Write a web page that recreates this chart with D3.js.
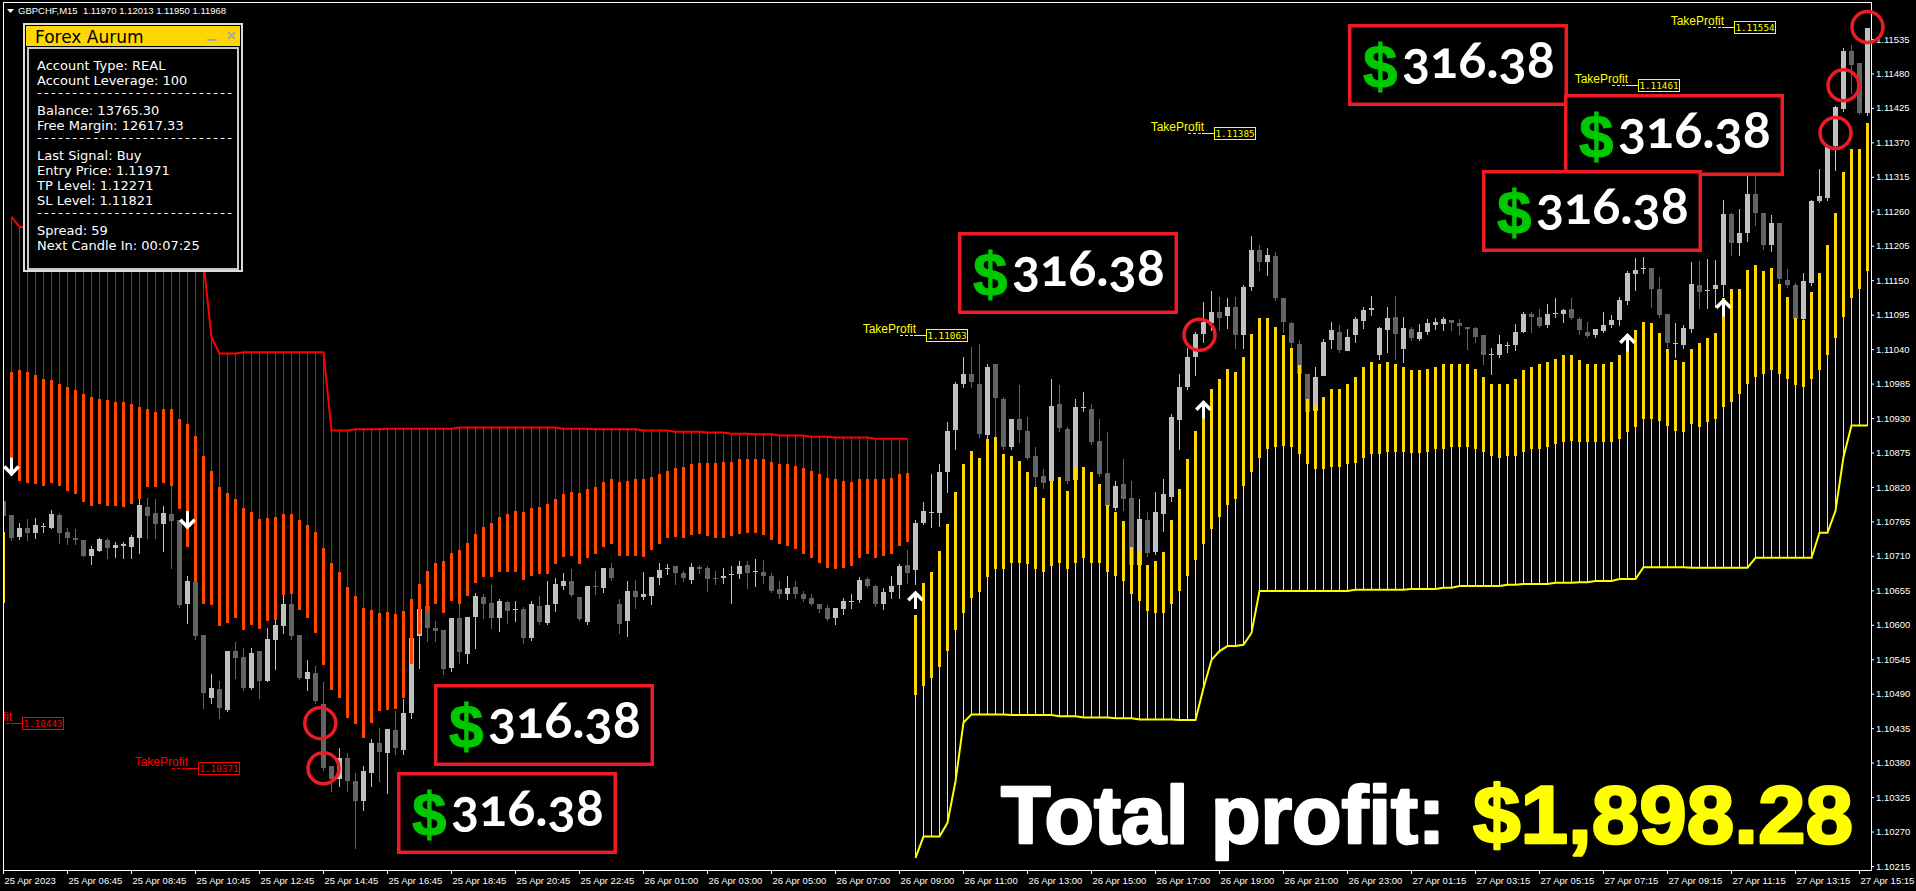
<!DOCTYPE html>
<html><head><meta charset="utf-8">
<script src="https://cdn.jsdelivr.net/npm/d3@7"></script>
<style>
html,body{margin:0;padding:0;background:#000;overflow:hidden}
svg{display:block}
</style></head><body>
<svg id="chart" width="1916" height="891"></svg>
<script>
// ---------------- DATA ----------------
const symbolHeader = "GBPCHF,M15  1.11970 1.12013 1.11950 1.11968";
const timeLabels = ["25 Apr 2023","25 Apr 06:45","25 Apr 08:45","25 Apr 10:45","25 Apr 12:45","25 Apr 14:45","25 Apr 16:45","25 Apr 18:45","25 Apr 20:45","25 Apr 22:45","26 Apr 01:00","26 Apr 03:00","26 Apr 05:00","26 Apr 07:00","26 Apr 09:00","26 Apr 11:00","26 Apr 13:00","26 Apr 15:00","26 Apr 17:00","26 Apr 19:00","26 Apr 21:00","26 Apr 23:00","27 Apr 01:15","27 Apr 03:15","27 Apr 05:15","27 Apr 07:15","27 Apr 09:15","27 Apr 11:15","27 Apr 13:15","27 Apr 15:15"];
const priceTicks = [1.10215,1.10270,1.10325,1.10380,1.10435,1.10490,1.10545,1.10600,1.10655,1.10710,1.10765,1.10820,1.10875,1.10930,1.10985,1.11040,1.11095,1.11150,1.11205,1.11260,1.11315,1.11370,1.11425,1.11480,1.11535];

const open = [
1.10798,1.10776,1.10740,1.10755,1.10748,1.10756,1.10755,1.10776,1.10748,1.10739,
1.10736,1.10710,1.10718,1.10736,1.10723,1.10726,1.10724,1.10739,1.10788,1.10779,
1.10761,1.10777,1.10768,1.10633,1.10668,1.10584,1.10483,1.10497,1.10464,1.10558,
1.10548,1.10499,1.10558,1.10510,1.10576,1.10598,1.10633,1.10584,1.10513,1.10523,
1.10473,1.10374,1.10353,1.10387,1.10350,1.10318,1.10364,1.10412,1.10395,1.10432,
1.10401,1.10459,1.10582,1.10630,1.10595,1.10592,1.10531,1.10611,1.10553,1.10612,
1.10644,1.10635,1.10611,1.10636,1.10624,1.10625,1.10579,1.10630,1.10603,1.10633,
1.10662,1.10670,1.10644,1.10604,1.10662,1.10659,1.10691,1.10633,1.10606,1.10654,
1.10644,1.10646,1.10675,1.10689,1.10694,1.10683,1.10672,1.10692,1.10691,1.10675,
1.10675,1.10680,1.10681,1.10696,1.10686,1.10684,1.10678,1.10657,1.10649,1.10660,
1.10649,1.10643,1.10633,1.10627,1.10611,1.10625,1.10636,1.10640,1.10673,1.10662,
1.10633,1.10652,1.10664,1.10696,1.10688,1.10763,1.10779,1.10779,1.10844,1.10910,
1.10984,1.11000,1.10984,1.10904,1.11016,1.10961,1.10884,1.10928,1.10910,1.10870,
1.10838,1.10830,1.10952,1.10913,1.10830,1.10947,1.10944,1.10894,1.10843,1.10787,
1.10824,1.10803,1.10696,1.10768,1.10716,1.10776,1.10804,1.10928,1.10979,1.11027,
1.11064,1.11081,1.11099,1.11092,1.11107,1.11062,1.11139,1.11198,1.11179,1.11188,
1.11121,1.11081,1.11048,1.11000,1.10940,1.10998,1.11054,1.11067,1.11038,1.11062,
1.11084,1.11102,1.11030,1.11070,1.11091,1.11040,1.11072,1.11057,1.11067,1.11078,
1.11080,1.11086,1.11081,1.11075,1.11073,1.11062,1.11032,1.11030,1.11044,1.11048,
1.11068,1.11096,1.11092,1.11078,1.11096,1.11096,1.11104,1.11088,1.11068,1.11062,
1.11068,1.11078,1.11086,1.11116,1.11160,1.11168,1.11169,1.11136,1.11096,1.11048,
1.11046,1.11072,1.11142,1.11132,1.11136,1.11142,1.11256,1.11209,1.11225,1.11288,
1.11257,1.11206,1.11241,1.11150,1.11142,1.11088,1.11145,1.11276,1.11281,1.11364,
1.11424,1.11516,1.11497,1.11417];

const high = [
1.10803,1.10776,1.10763,1.10769,1.10771,1.10763,1.10784,1.10779,1.10755,1.10753,
1.10736,1.10726,1.10739,1.10739,1.10732,1.10732,1.10744,1.10800,1.10803,1.10800,
1.10790,1.10827,1.10768,1.10678,1.10697,1.10584,1.10521,1.10510,1.10558,1.10572,
1.10563,1.10563,1.10558,1.10595,1.10614,1.10649,1.10649,1.10584,1.10544,1.10534,
1.10508,1.10374,1.10403,1.10395,1.10363,1.10374,1.10417,1.10436,1.10433,1.10462,
1.10481,1.10579,1.10625,1.10649,1.10606,1.10592,1.10611,1.10633,1.10612,1.10651,
1.10649,1.10664,1.10641,1.10638,1.10638,1.10628,1.10638,1.10646,1.10670,1.10675,
1.10683,1.10689,1.10644,1.10662,1.10686,1.10691,1.10699,1.10641,1.10670,1.10672,
1.10684,1.10676,1.10699,1.10697,1.10694,1.10686,1.10699,1.10696,1.10694,1.10686,
1.10691,1.10694,1.10702,1.10702,1.10705,1.10704,1.10683,1.10670,1.10678,1.10670,
1.10654,1.10649,1.10633,1.10632,1.10627,1.10643,1.10649,1.10676,1.10676,1.10664,
1.10659,1.10678,1.10697,1.10720,1.10768,1.10796,1.10841,1.10857,1.10924,1.10988,
1.11027,1.11044,1.11048,1.11016,1.11016,1.10964,1.10929,1.10982,1.10932,1.10884,
1.10848,1.10993,1.10982,1.10916,1.10961,1.10972,1.10953,1.10928,1.10907,1.10830,
1.10865,1.10830,1.10800,1.10780,1.10812,1.10833,1.10937,1.11000,1.11041,1.11067,
1.11115,1.11132,1.11123,1.11121,1.11123,1.11142,1.11220,1.11206,1.11201,1.11195,
1.11121,1.11083,1.11054,1.11000,1.11012,1.11056,1.11084,1.11078,1.11072,1.11092,
1.11108,1.11124,1.11075,1.11108,1.11124,1.11092,1.11076,1.11080,1.11088,1.11089,
1.11092,1.11086,1.11088,1.11075,1.11075,1.11062,1.11041,1.11062,1.11052,1.11080,
1.11099,1.11099,1.11104,1.11112,1.11121,1.11104,1.11121,1.11092,1.11083,1.11072,
1.11100,1.11094,1.11123,1.11164,1.11185,1.11187,1.11169,1.11155,1.11096,1.11081,
1.11078,1.11179,1.11180,1.11184,1.11182,1.11278,1.11257,1.11264,1.11320,1.11320,
1.11257,1.11254,1.11241,1.11168,1.11145,1.11161,1.11278,1.11328,1.11368,1.11428,
1.11520,1.11526,1.11497,1.11553];

const low = [
1.10771,1.10736,1.10737,1.10736,1.10739,1.10748,1.10755,1.10731,1.10729,1.10729,
1.10710,1.10697,1.10718,1.10707,1.10708,1.10707,1.10707,1.10715,1.10739,1.10739,
1.10718,1.10691,1.10628,1.10603,1.10577,1.10467,1.10475,1.10451,1.10462,1.10515,
1.10496,1.10497,1.10483,1.10510,1.10529,1.10587,1.10577,1.10513,1.10496,1.10475,
1.10369,1.10334,1.10342,1.10334,1.10244,1.10305,1.10342,1.10350,1.10331,1.10393,
1.10393,1.10451,1.10531,1.10574,1.10574,1.10521,1.10526,1.10539,1.10539,1.10563,
1.10611,1.10595,1.10590,1.10603,1.10606,1.10571,1.10576,1.10601,1.10601,1.10622,
1.10657,1.10646,1.10608,1.10601,1.10649,1.10652,1.10672,1.10587,1.10582,1.10627,
1.10641,1.10633,1.10665,1.10681,1.10665,1.10670,1.10667,1.10683,1.10654,1.10665,
1.10667,1.10635,1.10675,1.10659,1.10662,1.10667,1.10652,1.10643,1.10641,1.10643,
1.10638,1.10632,1.10620,1.10608,1.10601,1.10617,1.10627,1.10636,1.10660,1.10630,
1.10625,1.10643,1.10643,1.10667,1.10665,1.10761,1.10756,1.10758,1.10812,1.10881,
1.10979,1.10979,1.10899,1.10896,1.10899,1.10881,1.10881,1.10892,1.10864,1.10822,
1.10819,1.10827,1.10910,1.10827,1.10827,1.10942,1.10888,1.10838,1.10784,1.10784,
1.10784,1.10692,1.10692,1.10710,1.10713,1.10750,1.10798,1.10881,1.10976,1.10998,
1.11052,1.11070,1.11070,1.11073,1.11041,1.11041,1.11134,1.11166,1.11158,1.11118,
1.11067,1.11035,1.10998,1.10939,1.10940,1.10998,1.11041,1.11036,1.11038,1.11051,
1.11073,1.11094,1.11024,1.11035,1.11025,1.11019,1.11054,1.11054,1.11064,1.11072,
1.11070,1.11070,1.11064,1.11040,1.11051,1.11017,1.11000,1.11028,1.11035,1.11038,
1.11067,1.11067,1.11076,1.11076,1.11092,1.11084,1.11088,1.11064,1.11060,1.11059,
1.11067,1.11075,1.11078,1.11112,1.11134,1.11161,1.11108,1.11092,1.11043,1.11028,
1.11041,1.11067,1.11105,1.11105,1.11108,1.11124,1.11190,1.11190,1.11212,1.11238,
1.11200,1.11196,1.11145,1.11139,1.11084,1.11084,1.11142,1.11275,1.11278,1.11326,
1.11420,1.11449,1.11416,1.11414];

const close = [
1.10774,1.10740,1.10755,1.10747,1.10760,1.10758,1.10777,1.10747,1.10739,1.10736,
1.10710,1.10721,1.10737,1.10723,1.10728,1.10729,1.10740,1.10792,1.10774,1.10761,
1.10779,1.10766,1.10632,1.10670,1.10582,1.10491,1.10499,1.10467,1.10558,1.10547,
1.10499,1.10555,1.10510,1.10577,1.10600,1.10633,1.10582,1.10515,1.10524,1.10478,
1.10371,1.10353,1.10387,1.10350,1.10318,1.10366,1.10412,1.10398,1.10433,1.10403,
1.10460,1.10579,1.10625,1.10595,1.10590,1.10529,1.10611,1.10556,1.10612,1.10646,
1.10633,1.10611,1.10638,1.10622,1.10625,1.10579,1.10633,1.10604,1.10632,1.10665,
1.10670,1.10648,1.10609,1.10662,1.10660,1.10691,1.10675,1.10601,1.10654,1.10644,
1.10649,1.10676,1.10688,1.10691,1.10683,1.10675,1.10692,1.10689,1.10673,1.10673,
1.10678,1.10681,1.10694,1.10684,1.10686,1.10678,1.10654,1.10649,1.10659,1.10649,
1.10641,1.10633,1.10625,1.10609,1.10627,1.10638,1.10638,1.10672,1.10662,1.10633,
1.10652,1.10662,1.10694,1.10684,1.10763,1.10782,1.10780,1.10844,1.10910,1.10984,
1.11000,1.10987,1.10904,1.11012,1.10961,1.10884,1.10928,1.10910,1.10867,1.10836,
1.10827,1.10950,1.10913,1.10830,1.10947,1.10948,1.10892,1.10841,1.10790,1.10822,
1.10800,1.10696,1.10769,1.10715,1.10780,1.10808,1.10932,1.10980,1.11027,1.11064,
1.11083,1.11099,1.11089,1.11107,1.11062,1.11139,1.11198,1.11179,1.11190,1.11121,
1.11083,1.11049,1.11000,1.10940,1.10995,1.11052,1.11070,1.11038,1.11060,1.11088,
1.11102,1.11105,1.11073,1.11089,1.11064,1.11073,1.11057,1.11068,1.11081,1.11083,
1.11088,1.11081,1.11076,1.11072,1.11059,1.11030,1.11033,1.11048,1.11046,1.11068,
1.11096,1.11091,1.11078,1.11096,1.11097,1.11102,1.11089,1.11070,1.11062,1.11072,
1.11078,1.11086,1.11118,1.11161,1.11166,1.11169,1.11136,1.11094,1.11049,1.11049,
1.11073,1.11144,1.11131,1.11134,1.11142,1.11256,1.11209,1.11225,1.11288,1.11257,
1.11206,1.11241,1.11152,1.11142,1.11088,1.11148,1.11276,1.11284,1.11364,1.11427,
1.11516,1.11494,1.11417,1.11553];

// trend indicator: trailing stop level, band edge nearest the stop, band edge farthest from it
const trendStop = [
1.10385,1.11251,1.11235,1.11235,1.11235,1.11235,1.11235,1.11235,1.11235,1.11235,
1.11235,1.11235,1.11235,1.11235,1.11235,1.11235,1.11235,1.11235,1.11235,1.11235,
1.11235,1.11235,1.11235,1.11235,1.11233,1.11179,1.11059,1.11033,1.11033,1.11033,
1.11035,1.11035,1.11035,1.11035,1.11035,1.11035,1.11035,1.11035,1.11035,1.11035,
1.11035,1.10910,1.10910,1.10910,1.10912,1.10912,1.10912,1.10912,1.10913,1.10913,
1.10913,1.10913,1.10913,1.10913,1.10913,1.10913,1.10913,1.10915,1.10915,1.10915,
1.10915,1.10915,1.10915,1.10915,1.10915,1.10915,1.10915,1.10915,1.10915,1.10915,
1.10913,1.10913,1.10913,1.10913,1.10912,1.10912,1.10912,1.10912,1.10912,1.10912,
1.10910,1.10910,1.10910,1.10910,1.10908,1.10908,1.10908,1.10908,1.10907,1.10907,
1.10907,1.10905,1.10905,1.10905,1.10904,1.10904,1.10904,1.10902,1.10902,1.10902,
1.10902,1.10900,1.10900,1.10900,1.10899,1.10899,1.10899,1.10899,1.10899,1.10897,
1.10897,1.10897,1.10897,1.10897,1.10228,1.10262,1.10262,1.10262,1.10284,1.10350,
1.10444,1.10457,1.10457,1.10457,1.10457,1.10457,1.10456,1.10456,1.10456,1.10456,
1.10456,1.10456,1.10454,1.10454,1.10454,1.10452,1.10452,1.10452,1.10452,1.10451,
1.10451,1.10451,1.10449,1.10449,1.10449,1.10449,1.10449,1.10448,1.10448,1.10448,
1.10499,1.10544,1.10558,1.10566,1.10566,1.10568,1.10587,1.10654,1.10654,1.10654,
1.10654,1.10654,1.10654,1.10654,1.10654,1.10654,1.10654,1.10654,1.10654,1.10656,
1.10656,1.10656,1.10656,1.10656,1.10656,1.10656,1.10657,1.10657,1.10657,1.10657,
1.10659,1.10659,1.10662,1.10662,1.10662,1.10662,1.10662,1.10662,1.10664,1.10664,
1.10665,1.10665,1.10665,1.10665,1.10667,1.10667,1.10667,1.10668,1.10668,1.10670,
1.10670,1.10670,1.10673,1.10673,1.10673,1.10692,1.10692,1.10692,1.10692,1.10692,
1.10692,1.10691,1.10691,1.10691,1.10691,1.10691,1.10691,1.10691,1.10691,1.10707,
1.10707,1.10707,1.10707,1.10707,1.10707,1.10707,1.10707,1.10747,1.10747,1.10782,
1.10868,1.10918,1.10918,1.10918];

const bandNear = [
1.10635,1.11003,1.11006,1.11003,1.10998,1.10993,1.10990,1.10985,1.10980,1.10974,
1.10969,1.10964,1.10961,1.10958,1.10956,1.10955,1.10952,1.10948,1.10944,1.10940,
1.10944,1.10945,1.10929,1.10920,1.10902,1.10870,1.10846,1.10820,1.10811,1.10801,
1.10787,1.10780,1.10769,1.10771,1.10772,1.10777,1.10777,1.10768,1.10760,1.10748,
1.10723,1.10699,1.10684,1.10660,1.10646,1.10627,1.10624,1.10619,1.10620,1.10617,
1.10622,1.10641,1.10665,1.10686,1.10699,1.10702,1.10715,1.10720,1.10731,1.10745,
1.10756,1.10763,1.10772,1.10777,1.10782,1.10780,1.10787,1.10788,1.10793,1.10801,
1.10809,1.10812,1.10811,1.10817,1.10820,1.10828,1.10833,1.10828,1.10830,1.10832,
1.10832,1.10836,1.10841,1.10846,1.10851,1.10852,1.10856,1.10859,1.10859,1.10859,
1.10860,1.10860,1.10864,1.10864,1.10864,1.10864,1.10860,1.10857,1.10857,1.10854,
1.10851,1.10846,1.10841,1.10835,1.10832,1.10830,1.10828,1.10832,1.10832,1.10832,
1.10833,1.10835,1.10840,1.10843,1.10488,1.10502,1.10515,1.10532,1.10558,1.10592,
1.10619,1.10643,1.10652,1.10676,1.10689,1.10689,1.10699,1.10699,1.10697,1.10689,
1.10684,1.10694,1.10699,1.10689,1.10699,1.10707,1.10699,1.10699,1.10684,1.10678,
1.10670,1.10649,1.10638,1.10622,1.10619,1.10619,1.10633,1.10654,1.10678,1.10704,
1.10729,1.10753,1.10772,1.10792,1.10801,1.10822,1.10844,1.10867,1.10880,1.10884,
1.10886,1.10883,1.10872,1.10856,1.10849,1.10849,1.10852,1.10852,1.10856,1.10859,
1.10867,1.10873,1.10873,1.10876,1.10876,1.10876,1.10875,1.10875,1.10876,1.10880,
1.10881,1.10883,1.10883,1.10883,1.10880,1.10876,1.10870,1.10867,1.10870,1.10870,
1.10876,1.10880,1.10881,1.10883,1.10888,1.10891,1.10894,1.10892,1.10891,1.10891,
1.10891,1.10891,1.10897,1.10907,1.10916,1.10928,1.10929,1.10926,1.10918,1.10910,
1.10907,1.10921,1.10916,1.10923,1.10928,1.10947,1.10956,1.10968,1.10985,1.10996,
1.11000,1.11006,1.11000,1.10993,1.10982,1.10979,1.10993,1.11006,1.11030,1.11057,
1.11092,1.11121,1.11136,1.11164];

const bandFar = [
1.10748,1.10838,1.10830,1.10827,1.10825,1.10822,1.10827,1.10822,1.10814,1.10808,
1.10796,1.10790,1.10793,1.10790,1.10790,1.10788,1.10793,1.10800,1.10820,1.10820,
1.10827,1.10822,1.10785,1.10724,1.10668,1.10633,1.10632,1.10598,1.10603,1.10611,
1.10592,1.10600,1.10593,1.10606,1.10608,1.10648,1.10649,1.10624,1.10611,1.10587,
1.10536,1.10496,1.10483,1.10451,1.10441,1.10419,1.10443,1.10462,1.10464,1.10465,
1.10483,1.10537,1.10585,1.10622,1.10633,1.10619,1.10638,1.10633,1.10646,1.10667,
1.10676,1.10676,1.10684,1.10684,1.10684,1.10672,1.10678,1.10681,1.10681,1.10697,
1.10708,1.10710,1.10697,1.10707,1.10713,1.10724,1.10729,1.10710,1.10710,1.10710,
1.10708,1.10720,1.10729,1.10739,1.10740,1.10739,1.10744,1.10745,1.10742,1.10739,
1.10739,1.10742,1.10745,1.10747,1.10747,1.10744,1.10736,1.10729,1.10726,1.10721,
1.10713,1.10707,1.10699,1.10691,1.10689,1.10691,1.10694,1.10707,1.10713,1.10707,
1.10710,1.10713,1.10726,1.10732,1.10616,1.10667,1.10684,1.10718,1.10761,1.10812,
1.10856,1.10878,1.10867,1.10896,1.10899,1.10873,1.10870,1.10862,1.10844,1.10820,
1.10803,1.10830,1.10836,1.10814,1.10852,1.10852,1.10844,1.10824,1.10792,1.10780,
1.10766,1.10724,1.10718,1.10696,1.10702,1.10716,1.10768,1.10817,1.10865,1.10910,
1.10932,1.10977,1.10993,1.11008,1.11004,1.11027,1.11064,1.11089,1.11089,1.11076,
1.11062,1.11041,1.11014,1.10960,1.10950,1.10963,1.10977,1.10977,1.10985,1.10996,
1.11011,1.11020,1.11017,1.11020,1.11016,1.11012,1.11006,1.11006,1.11009,1.11012,
1.11016,1.11017,1.11016,1.11016,1.11009,1.10996,1.10985,1.10985,1.10985,1.10992,
1.11006,1.11012,1.11016,1.11020,1.11025,1.11030,1.11030,1.11022,1.11016,1.11016,
1.11016,1.11019,1.11030,1.11041,1.11070,1.11083,1.11081,1.11065,1.11040,1.11022,
1.11019,1.11040,1.11049,1.11057,1.11065,1.11121,1.11136,1.11136,1.11166,1.11174,
1.11164,1.11169,1.11144,1.11123,1.11089,1.11086,1.11131,1.11161,1.11206,1.11257,
1.11323,1.11360,1.11360,1.11401];

// signals (bar index, direction, price where the arrow sits)
const signalBars = [1, 23, 114, 150, 203, 215];
const signalDir = [-1, -1, 1, 1, 1, 1];
const signalPrice = [1.10854, 1.10769, 1.10638, 1.10942, 1.11049, 1.11105];
// take-profit levels (bar where label starts, level)
const tpBars = [2, 24, 115, 151, 204, 216];
const tpPrices = [1.10443, 1.10371, 1.11063, 1.11385, 1.11461, 1.11554];
const tpDir = [-1, -1, 1, 1, 1, 1];
// bars where each take-profit was hit
const hitBars = [39.6, 40, 149.5, 229, 230, 233];
// profit per closed trade
const profits = [316.38, 316.38, 316.38, 316.38, 316.38, 316.38];
// info panel text
const panelLines = ["Account Type: REAL","Account Leverage: 100","-","Balance: 13765.30","Free Margin: 12617.33","-","Last Signal: Buy","Entry Price: 1.11971","TP Level: 1.12271","SL Level: 1.11821","-","Spread: 59","Next Candle In: 00:07:25"];

// ---------------- LAYOUT / STYLE ----------------
const W = 1916, H = 891;
const plot = {left: 3, top: 2, right: 1871, bottom: 870};
const boxLayout = [[1348,24],[1564,94],[1482,170],[958,232],[434,684],[397,772]];
const panelBaselines = [70,85,97,115,130,142,160,175,190,205,217,235,250];
const colors = {bull:"#c0c0c0", bear:"#646464", redThin:"#ff0000", redThick:"#ff4500",
  yelThin:"#ffff00", yelThick:"#ffd700", annot:"#ed1c24", green:"#00c800"};

const N = close.length;
const svg = d3.select("#chart");
svg.append("rect").attr("width", W).attr("height", H).attr("fill", "#000");
svg.append("defs").append("clipPath").attr("id", "plotClip")
  .append("rect").attr("x", plot.left).attr("y", plot.top)
  .attr("width", plot.right - plot.left).attr("height", plot.bottom - plot.top);

const x = d3.scaleBand().domain(d3.range(N)).range([-0.5, -0.5 + 8 * N]);
const px = i => x(i) + x.bandwidth() / 2;               // bar centre (half-pixel)
const xf = d3.scaleLinear().domain([0, N - 1]).range([px(0), px(N - 1)]);
const y = d3.scaleLinear().domain([1.10215, 1.11535]).range([866, 39]);

const gPlot = svg.append("g").attr("clip-path", "url(#plotClip)").attr("shape-rendering", "crispEdges");

// candles
const bars = close.map((c, i) => ({i, o: open[i], h: high[i], l: low[i], c}));
const col = d => d.c >= d.o ? colors.bull : colors.bear;
gPlot.append("g").selectAll("line").data(bars).join("line")
  .attr("x1", d => px(d.i)).attr("x2", d => px(d.i))
  .attr("y1", d => Math.round(y(d.h))).attr("y2", d => Math.round(y(d.l)) + 1)
  .attr("stroke", col).attr("stroke-width", 1);
gPlot.append("g").selectAll("rect").data(bars).join("rect")
  .attr("x", d => px(d.i) - 2.5).attr("width", 5)
  .attr("y", d => Math.round(y(Math.max(d.o, d.c))))
  .attr("height", d => Math.max(1, Math.round(Math.abs(y(d.o) - y(d.c)))))
  .attr("fill", col);

// trend indicator
const ind = d3.range(N).map(i => ({i, s: trendStop[i], n: bandNear[i], f: bandFar[i], bear: trendStop[i] > bandNear[i]}));
gPlot.append("g").selectAll("line").data(ind).join("line")
  .attr("x1", d => px(d.i)).attr("x2", d => px(d.i))
  .attr("y1", d => y(d.s)).attr("y2", d => y(d.n))
  .attr("stroke", d => d.bear ? colors.redThin : colors.yelThin).attr("stroke-width", 1);
gPlot.append("g").selectAll("rect").data(ind).join("rect")
  .attr("x", d => px(d.i) - 1.5).attr("width", 3)
  .attr("y", d => Math.min(y(d.n), y(d.f)))
  .attr("height", d => Math.abs(y(d.n) - y(d.f)))
  .attr("fill", d => d.bear ? colors.redThick : colors.yelThick);
// stop line, split into runs of equal direction
const runs = [];
let start = 0;
for (let i = 1; i <= N; i++) {
  if (i === N || ind[i].bear !== ind[start].bear) { runs.push(d3.range(start, i)); start = i; }
}
const stopLine = d3.line().x(i => px(i)).y(i => y(trendStop[i]));
gPlot.append("g").attr("shape-rendering", "auto").selectAll("path").data(runs.filter(r => r.length > 1)).join("path")
  .attr("d", stopLine).attr("fill", "none")
  .attr("stroke", r => ind[r[0]].bear ? colors.redThin : colors.yelThin).attr("stroke-width", 2);

// signal arrows
const gArr = gPlot.append("g").attr("shape-rendering", "auto");
signalBars.forEach((b, k) => {
  const cx = px(b), cy = y(signalPrice[k]), d = signalDir[k];
  gArr.append("line").attr("x1", cx).attr("x2", cx).attr("y1", cy - 8 * d + 2 * d).attr("y2", cy + 8 * d)
    .attr("stroke", "#fff").attr("stroke-width", 3);
  gArr.append("path").attr("d", `M${cx - 6},${cy - 2 * d} L${cx},${cy - 8 * d} L${cx + 6},${cy - 2 * d}`)
    .attr("fill", "none").attr("stroke", "#fff").attr("stroke-width", 3.5).attr("stroke-linecap", "square");
});

// take-profit labels
const gTp = gPlot.append("g").attr("shape-rendering", "auto");
tpBars.forEach((b, k) => {
  const c = tpDir[k] > 0 ? colors.yelThin : colors.redThin;
  const bx = Math.round(px(b) + 2), ty = Math.round(y(tpPrices[k])) + 0.5;
  gTp.append("text").attr("x", bx - 10).attr("y", ty - 3).attr("text-anchor", "end")
    .attr("font-family", "Liberation Sans, Arial, sans-serif").attr("font-size", 12).attr("fill", c).text("TakeProfit");
  gTp.append("line").attr("x1", bx - 26).attr("x2", bx - 12).attr("y1", ty).attr("y2", ty)
    .attr("stroke", c).attr("stroke-dasharray", "3,2");
  gTp.append("line").attr("x1", bx - 12).attr("x2", bx).attr("y1", ty).attr("y2", ty).attr("stroke", c);
  gTp.append("rect").attr("x", bx + 0.5).attr("y", ty - 6).attr("width", 41).attr("height", 12)
    .attr("fill", "#000").attr("stroke", c);
  gTp.append("text").attr("x", bx + 21).attr("y", ty + 3.5).attr("text-anchor", "middle")
    .attr("font-family", "DejaVu Sans Mono, monospace").attr("font-size", 9.3).attr("fill", c)
    .text(d3.format(".5f")(tpPrices[k]));
});

// frame
svg.append("rect").attr("x", plot.left + 0.5).attr("y", plot.top + 0.5)
  .attr("width", plot.right - plot.left).attr("height", plot.bottom - plot.top)
  .attr("fill", "none").attr("stroke", "#fff").attr("stroke-width", 1).attr("shape-rendering", "crispEdges");

// price axis
const yAxis = d3.axisRight(y).tickValues(priceTicks).tickFormat(d3.format(".5f")).tickSize(3).tickPadding(2).tickSizeOuter(0);
const gy = svg.append("g").attr("transform", `translate(${plot.right},0)`).call(yAxis);
gy.select(".domain").remove();
gy.selectAll("line").attr("stroke", "#fff");
gy.selectAll("text").attr("fill", "#fff").attr("font-family", "Liberation Sans, Arial, sans-serif").attr("font-size", 9.5);

// time axis
const xt = d3.scaleLinear().domain([0, N - 1]).range([3, 3 + 8 * (N - 1)]);
const tickBars = timeLabels.map((t, k) => k * 8);
const xAxis = d3.axisBottom(xt).tickValues(tickBars).tickFormat((d, k) => timeLabels[k]).tickSize(4).tickSizeOuter(0);
const gx = svg.append("g").attr("transform", `translate(0,${plot.bottom})`).call(xAxis);
gx.select(".domain").remove();
gx.selectAll("line").attr("stroke", "#fff");
gx.selectAll("text").attr("fill", "#fff").attr("font-family", "Liberation Sans, Arial, sans-serif").attr("font-size", 9.5)
  .attr("text-anchor", "start").attr("x", 1).attr("y", 14).attr("dy", null);

// hit circles
svg.append("g").selectAll("circle").data(hitBars).join("circle")
  .attr("cx", (b) => xf(b)).attr("cy", (b, k) => y(tpPrices[k])).attr("r", 15.5)
  .attr("fill", "none").attr("stroke", colors.annot).attr("stroke-width", 3.5);

// profit boxes
const fmt = d3.format(".2f");
const gBox = svg.append("g");
profits.forEach((p, k) => {
  const [bx, by] = boxLayout[k];
  gBox.append("rect").attr("x", bx + 1.75).attr("y", by + 1.75).attr("width", 216.5).attr("height", 78.5)
    .attr("fill", "#000").attr("stroke", colors.annot).attr("stroke-width", 3.5);
  gBox.append("text").attr("x", bx + 15).attr("y", by + 63)
    .attr("font-family", "Liberation Sans, Arial, sans-serif").attr("font-weight", 700).attr("font-size", 62)
    .attr("fill", colors.green).attr("stroke", colors.green).attr("stroke-width", 1).text("$");
  gBox.append("text").attr("x", bx + 54).attr("y", by + 54)
    .attr("font-family", "Lato, Noto Sans, sans-serif").attr("font-weight", 700).attr("font-size", 52)
    .style("font-variant-numeric", "oldstyle-nums").style("font-feature-settings", "'onum' 1")
    .attr("fill", "#fff").text(fmt(p));
});

// total profit
const total = d3.sum(profits);
svg.append("text").attr("x", 1001).attr("y", 843).attr("font-family", "Liberation Sans, Arial, sans-serif")
  .attr("font-weight", 700).attr("font-size", 81).attr("stroke-width", 2.5).attr("stroke-linejoin", "round")
  .attr("fill", "#fff").attr("stroke", "#fff").text("Total profit:");
svg.append("text").attr("x", 1473).attr("y", 843).attr("font-family", "Liberation Sans, Arial, sans-serif")
  .attr("font-weight", 700).attr("font-size", 81).attr("stroke-width", 2.5).attr("stroke-linejoin", "round")
  .attr("fill", "#ffff00").attr("stroke", "#ffff00")
  .attr("textLength", 380).attr("lengthAdjust", "spacingAndGlyphs").text(d3.format("$,.2f")(total));

// header
svg.append("path").attr("d", "M7,9 L14,9 L10.5,13 Z").attr("fill", "#fff");
svg.append("text").attr("x", 18).attr("y", 14).attr("fill", "#fff")
  .attr("font-family", "Liberation Sans, Arial, sans-serif").attr("font-size", 9.5)
  .style("white-space", "pre").text(symbolHeader);

// info panel
const gp = svg.append("g");
gp.append("rect").attr("x", 24).attr("y", 24).attr("width", 218).attr("height", 247)
  .attr("fill", "#000").attr("stroke", "#dcdcdc").attr("stroke-width", 2);
gp.append("rect").attr("x", 26).attr("y", 26).attr("width", 214).attr("height", 20).attr("fill", "#ffd700");
gp.append("text").attr("x", 35).attr("y", 43).attr("font-family", "DejaVu Sans, Verdana, sans-serif")
  .attr("font-size", 17).attr("fill", "#000").text("Forex Aurum");
gp.append("line").attr("x1", 207).attr("x2", 217).attr("y1", 40).attr("y2", 40).attr("stroke", "#a8a8a8").attr("stroke-width", 2);
gp.append("path").attr("d", "M228,32 L235,39 M235,32 L228,39").attr("stroke", "#a8a8a8").attr("stroke-width", 2);
gp.append("rect").attr("x", 28).attr("y", 48).attr("width", 210).attr("height", 221)
  .attr("fill", "#000").attr("stroke", "#c8c8c8").attr("stroke-width", 2);
panelLines.forEach((t, k) => {
  const isSep = t === "-";
  const el = gp.append("text").attr("x", 37).attr("y", panelBaselines[k]).attr("fill", "#fff")
    .attr("font-family", "DejaVu Sans, Verdana, sans-serif").attr("font-size", 13)
    .text(isSep ? "----------------------------" : t);
  if (isSep) el.attr("textLength", 195).attr("lengthAdjust", "spacing");
});
</script>
</body></html>
